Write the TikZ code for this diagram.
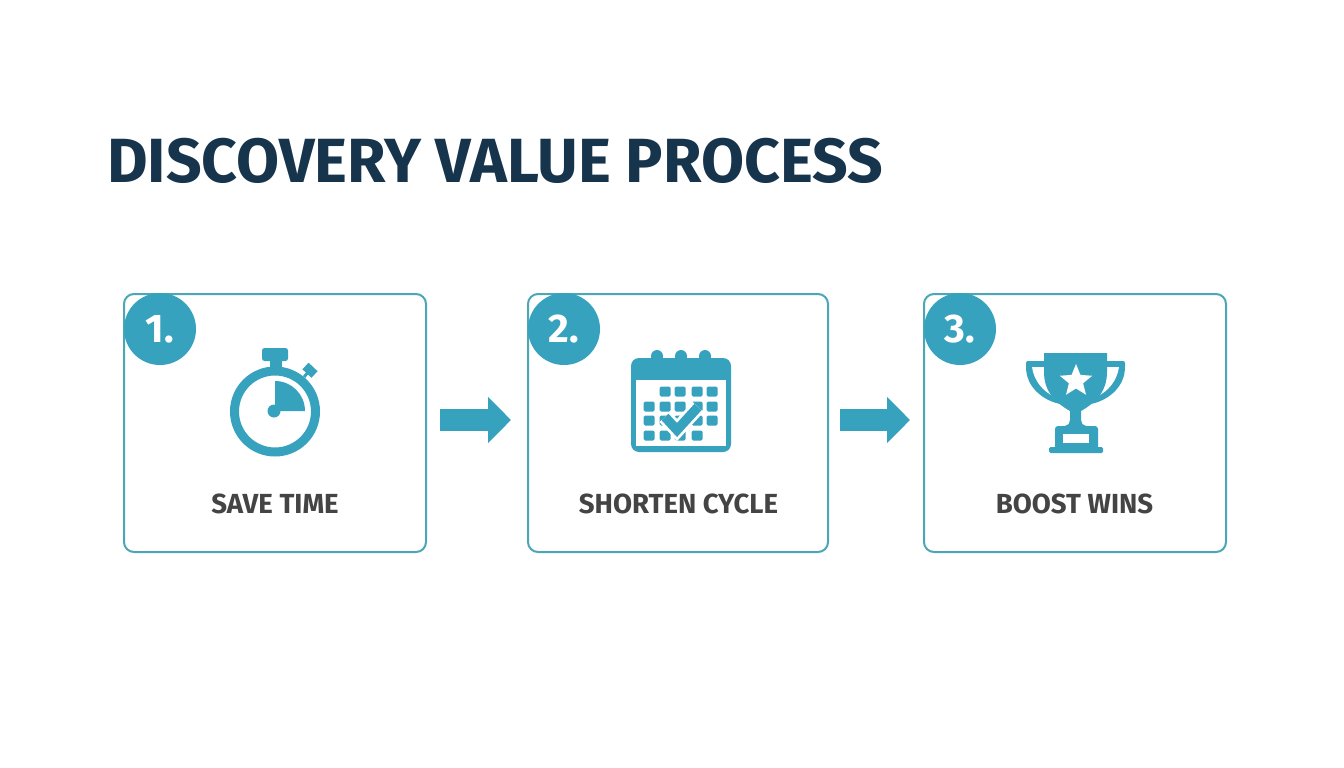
\documentclass[tikz,border=0pt]{standalone}
\usepackage{fontspec}
\setmainfont{Fira Sans}
\usetikzlibrary{arrows.meta,calc}
\definecolor{teal}{HTML}{37A2BD}
\definecolor{edgeteal}{HTML}{4BA6B8}
\definecolor{titleblue}{HTML}{17344D}
\definecolor{labelgrey}{HTML}{444444}
\tikzset{
  card/.style={draw=edgeteal,line width=2pt,rounded corners=10pt,fill=white,minimum width=302pt,minimum height=258pt,inner sep=0pt},
  badge/.style={circle,fill=teal,minimum size=72pt,inner sep=0pt,text=white,font=\fontsize{40}{40}\selectfont\bfseries},
  caption/.style={text=labelgrey,inner sep=0pt,font=\fontsize{27.6}{28}\selectfont\bfseries},
  flow/.style={draw=teal,line width=22pt,-{Triangle[length=23pt,width=45pt]}},
  ico/.style={fill=teal,draw=none},
  cell/.style={fill=teal,rounded corners=1.5pt,draw=none}
}
\begin{document}
\begin{tikzpicture}[x=1pt,y=-1pt]
\useasboundingbox[fill=white] (0,0) rectangle (1344,768);
\node[anchor=west,inner sep=0pt,text=titleblue,font=\fontsize{62.4}{64}\selectfont\bfseries] (title) at (107,161) {DISCOVERY VALUE PROCESS};

\node[card] (box1) at (275,423) {};
\node[card,minimum width=300pt] (box2) at (678,423) {};
\node[card] (box3) at (1075,423) {};
\node[badge] (num1) at (160,329) {1.};
\node[badge] (num2) at (564,329) {2.};
\node[badge] (num3) at (960,329) {3.};
\node[caption] (cap1) at (275,504) {SAVE TIME};
\node[caption] (cap2) at (678.5,504) {SHORTEN CYCLE};
\node[caption] (cap3) at (1074.5,504) {BOOST WINS};

\draw[flow,shorten <=13pt,shorten >=16pt] ([yshift=3pt]box1.east) -- ([yshift=3pt]box2.west);
\draw[flow,shorten <=11pt,shorten >=13pt] ([yshift=3pt]box2.east) -- ([yshift=3pt]box3.west);

% stopwatch
\draw[teal,line width=9pt] (275,411.5) circle[radius=40.5pt];
\fill[ico,rounded corners=2.5pt] (262,348) rectangle (288,361);
\fill[ico] (270,358) rectangle (282,369);
\draw[teal,line width=9pt] (305.5,366) -- (314.5,374.5);
\draw[teal,line width=3pt] (304,377) -- (310,370);
\fill[ico] (275,411) -- (275,381) .. controls (291.6,381) and (305,394.4) .. (305,411) -- cycle;
\fill[ico] (274,411) circle[radius=6.5pt];

% calendar
\foreach \rx in {657,681,705} {\fill[ico] (\rx,356) circle[radius=6pt]; \fill[ico] (\rx-6,356) rectangle (\rx+6,362);}
\fill[ico,rounded corners=8pt] (631,358) rectangle (731,452);
\fill[white] (636,380) rectangle (726,446);
\foreach \cx/\cy in {660/387,675/387,692/387,707/387,
  644/402,660/402,675/402,692/402,707/402,
  644/416,660/416,675/416,692/416,707/416,
  644/431,660/431,675/431,692/431} {
  \fill[cell] (\cx-0.5,\cy-0.5) rectangle (\cx+10.5,\cy+9.5);
}
\draw[white,line width=15pt,line join=miter] (665,417) -- (677,430) -- (698,407);
\draw[teal,line width=9.5pt,line join=miter] (665,417) -- (677,430) -- (698,407);

% trophy
\fill[ico,rounded corners=2pt] (1044,361) -- (1026,361) -- (1026,368) .. controls (1027,385) and (1040,399) .. (1060,404) -- (1091,404) .. controls (1111,399) and (1124,385) .. (1125,368) -- (1125,361) -- (1107,361) -- cycle;
\fill[white] (1032,367) -- (1044,367) .. controls (1045,378) and (1048,388) .. (1053,396) .. controls (1043,391) and (1034,381) .. (1032,367) -- cycle;
\fill[white] (1119,367) -- (1107,367) .. controls (1106,378) and (1103,388) .. (1098,396) .. controls (1108,391) and (1117,381) .. (1119,367) -- cycle;
\fill[ico] (1044,353) -- (1107,353) -- (1107,372) .. controls (1107,392) and (1095,403) .. (1081,411) -- (1081,420) .. controls (1081,423) and (1083,426) .. (1086,426) -- (1070,426) -- (1065,426) .. controls (1068,426) and (1070,423) .. (1070,420) -- (1070,411) .. controls (1056,403) and (1044,392) .. (1044,372) -- cycle;
\fill[ico] (1070,412) rectangle (1081,428);
\fill[ico,rounded corners=3pt] (1055,426) rectangle (1098,450);
\fill[ico,rounded corners=1.5pt] (1049,447) rectangle (1103,453);
\fill[white] (1063,434) rectangle (1089,443);
\fill[white] (1076,364) -- (1080.4,374.9) -- (1092.2,375.75) -- (1083.1,383.3) -- (1086,394.75) -- (1076,388.5) -- (1066,394.75) -- (1068.9,383.3) -- (1059.8,375.75) -- (1071.6,374.9) -- cycle;
\end{tikzpicture}
\end{document}
